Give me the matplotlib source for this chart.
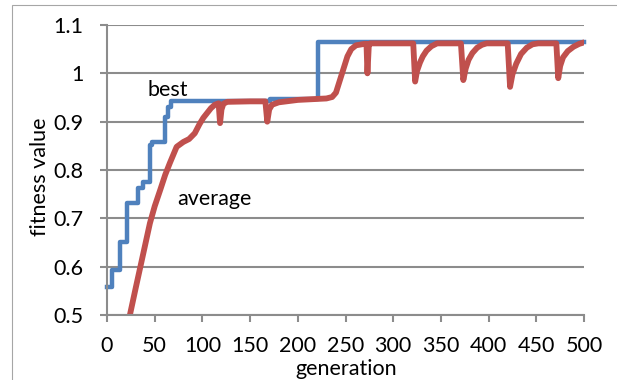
import matplotlib
matplotlib.use('Agg')
import matplotlib.pyplot as plt
from matplotlib.patches import Rectangle

# data
best_gen = [0, 5, 14, 21, 33, 38, 45, 47, 61, 64, 67, 171, 221, 500]
best_val = [0.557, 0.593, 0.652, 0.731, 0.763, 0.776, 0.852, 0.857, 0.91, 0.93, 0.942, 0.947, 1.065, 1.065]

avg_gen = [24, 30, 35, 40, 45, 50, 56, 61, 66, 73, 80, 86, 92, 97, 101, 105, 109, 113, 117,
           118.5, 120, 122, 126, 150, 166, 168, 170, 173, 180, 200, 230, 236, 240, 244, 248,
           252, 256, 261, 270, 272, 273, 274.5, 276, 321, 323, 325, 328, 331, 335, 340, 346,
           371, 373.5, 376, 379, 383, 388, 393, 398, 420, 422.5, 425, 429, 434, 440, 446, 452,
           471, 473, 475, 478, 483, 489, 495, 500]
avg_val = [0.50, 0.555, 0.60, 0.645, 0.69, 0.725, 0.76, 0.79, 0.815, 0.848, 0.858, 0.864, 0.876,
           0.895, 0.908, 0.918, 0.928, 0.935, 0.938,
           0.897, 0.925, 0.937, 0.941, 0.942, 0.942, 0.90, 0.925, 0.935, 0.94, 0.945, 0.948,
           0.951, 0.96, 0.985, 1.01,
           1.035, 1.05, 1.058, 1.061, 1.061, 1.0, 1.06, 1.062, 1.062, 0.983, 1.005, 1.022,
           1.035, 1.047, 1.056, 1.062,
           1.062, 0.986, 1.01, 1.028, 1.042, 1.053, 1.059, 1.062, 1.062, 0.972, 0.998, 1.02,
           1.04, 1.053, 1.06, 1.062,
           1.062, 0.99, 1.015, 1.033, 1.046, 1.055, 1.061, 1.064]

x_ticks = [0, 50, 100, 150, 200, 250, 300, 350, 400, 450, 500]
y_ticks = [0.5, 0.6, 0.7, 0.8, 0.9, 1.0, 1.1]
y_labels = ['0.5', '0.6', '0.7', '0.8', '0.9', '1', '1.1']

plt.rcParams['font.family'] = ['Lato', 'DejaVu Sans']
W, H = 617, 380
grey = '#8c8c8c'
fs = 15.5

fig = plt.figure(figsize=(W / 100, H / 100), dpi=100)
fig.patches.append(Rectangle((12 / W, -0.1), 1.2, 1.1 - 5 / H, transform=fig.transFigure,
                             fill=False, edgecolor='#a6a6a6', lw=0.8))

ax = fig.add_axes([107 / W, 1 - 315 / H, (584 - 107) / W, (315 - 25) / H])
ax.plot(best_gen, best_val, drawstyle='steps-post', color='#4F81BD', lw=3.2, clip_on=False)
ax.plot(avg_gen, avg_val, color='#C0504D', lw=4.2, solid_joinstyle='round', solid_capstyle='round')

ax.set_xlim(0, 500)
ax.set_ylim(0.5, 1.1)
ax.set_xticks(x_ticks)
ax.set_yticks(y_ticks)
ax.set_yticklabels(y_labels)
ax.grid(axis='y', color=grey, lw=1.5)
ax.set_axisbelow(True)
for s in ['top', 'right']:
    ax.spines[s].set_visible(False)
for s in ['left', 'bottom']:
    ax.spines[s].set_color(grey)
    ax.spines[s].set_linewidth(1.5)
ax.tick_params(axis='y', length=5, width=1.5, color=grey, pad=12, labelsize=fs)
ax.tick_params(axis='x', length=5, width=1.5, color=grey, pad=10, labelsize=fs)

ax.text(42, 0.953, 'best', fontsize=fs, ha='left', va='baseline')
ax.text(74, 0.728, 'average', fontsize=fs, ha='left', va='baseline')

fig.text(40 / W, 1 - 177 / H, 'fitness value', rotation=90, fontsize=fs, ha='center', va='center')
fig.text(346 / W, 1 - 369 / H, 'generation', fontsize=fs, ha='center', va='center')

fig.savefig('out.png', dpi=100)
